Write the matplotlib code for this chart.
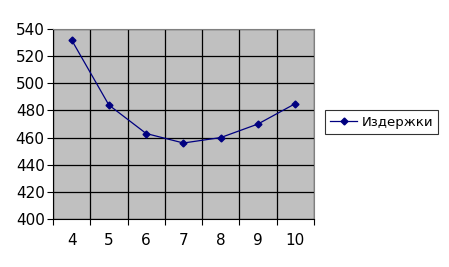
import matplotlib.pyplot as plt
import numpy as np

categories = ["4", "5", "6", "7", "8", "9", "10"]
costs = [532, 484, 463, 456, 460, 470, 485]
series_name = "Издержки"
y_ticks = [400, 420, 440, 460, 480, 500, 520, 540]

fig = plt.figure(figsize=(4.49, 2.67), dpi=100)
ax = fig.add_axes([0.118, 0.18, 0.581, 0.711])
ax.set_facecolor("#c0c0c0")

x = np.arange(len(categories))
ax.plot(x, costs, color="#000080", lw=0.9, marker="D", ms=3.5,
        label=series_name)

ax.set_xlim(-0.5, len(categories) - 0.5)
ax.set_ylim(400, 540)
ax.set_yticks(y_ticks)
ax.grid(axis="y", color="black", lw=0.9)

# category boundaries carry the gridlines, labels sit at the centres
ax.set_xticks(np.arange(-0.5, len(categories)), minor=False)
ax.set_xticklabels([])
ax.set_xticks(x, minor=True)
ax.set_xticklabels(categories, minor=True, fontsize=11)
ax.tick_params(axis="x", which="minor", length=0, pad=10)
ax.tick_params(axis="x", which="major", length=4, color="black")
ax.grid(axis="x", which="major", color="black", lw=0.9)
ax.tick_params(axis="y", length=4, labelsize=11, pad=2)
ax.set_axisbelow(True)

for s in ["top", "right"]:
    ax.spines[s].set_color("#808080")
for s in ["left", "bottom"]:
    ax.spines[s].set_color("black")

leg = fig.legend(loc="center left", bbox_to_anchor=(0.724, 0.543),
                 borderaxespad=0, fontsize=9.5, frameon=True, fancybox=False,
                 handlelength=2.0, borderpad=0.4, handletextpad=0.35)
leg.get_frame().set_edgecolor("black")
leg.get_frame().set_linewidth(0.8)

fig.savefig("out.png", dpi=100)
